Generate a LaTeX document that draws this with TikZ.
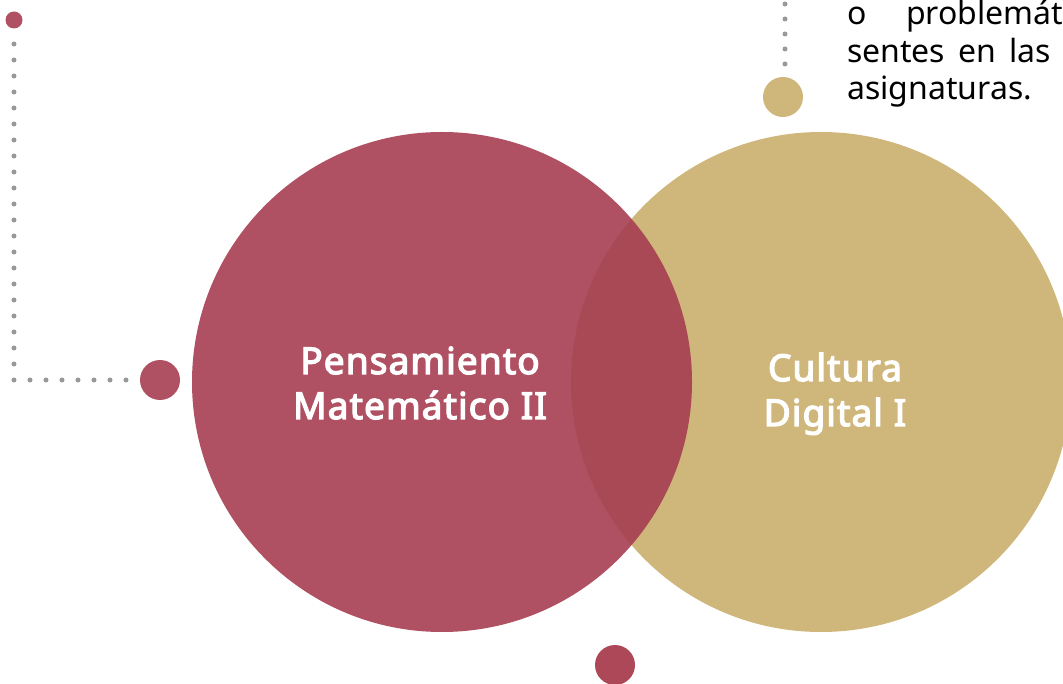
\documentclass[tikz,border=0pt]{standalone}
\usepackage{fontspec}
\setmainfont{Noto Sans}
\newfontfamily\titlefont[FakeBold=3.5,LetterSpace=3]{Noto Sans}
\definecolor{wine}{RGB}{167,62,82}
\definecolor{winedot}{RGB}{176,81,99}
\definecolor{winedark}{RGB}{173,72,88}
\definecolor{gold}{RGB}{207,183,123}
\definecolor{dotgray}{RGB}{153,153,153}
\tikzset{
  bigtitle/.style={text=white,font=\titlefont\fontsize{37}{44}\selectfont,anchor=base,inner sep=0pt},
  bodytext/.style={text=black,font=\fontsize{32}{38}\selectfont,anchor=base west,inner sep=0pt},
  dotline/.style={dotgray,line width=5pt,line cap=round,dash pattern=on 0pt off #1},
  dotline/.default=16pt
}
\begin{document}
\begin{tikzpicture}[x=1pt,y=-1pt]
\useasboundingbox (0,0) rectangle (1063,684);
\clip (0,0) rectangle (1063,684);
% big circles
\fill[gold] (821,382) circle (250);
\fill[wine,opacity=0.9] (442,382) circle (250);
% dots
\coordinate (tlstart) at (14,44);
\coordinate (tlcorner) at (14,380);
\coordinate (tlend) at (128,380);
\draw[dotline] (tlstart) -- (tlcorner) -- (tlend);
\coordinate (trstart) at (785,4);
\coordinate (trend) at (785,64);
\draw[dotline=15pt] (trstart) -- (trend);
\fill[winedot] (14,20) circle (8.5) coordinate (dottl);
\fill[winedot] (160,380) circle (20) coordinate (dotl);
\fill[gold] (783,97) circle (20) coordinate (dottr);
\fill[winedark] (615,665) circle (20) coordinate (dotb);
% titles
\node[bigtitle] (pm1) at (420,374) {Pensamiento};
\node[bigtitle] (pm2) at (420,419) {Matemático II};
\node[bigtitle] (cd1) at (835,381) {Cultura};
\node[bigtitle] (cd2) at (835,426) {Digital I};
% body text
\node[bodytext] (w1) at (847,25) {o};
\node[bodytext] (w2) at (906,25) {problemát};
\node[bodytext] (w3) at (847,63) {sentes};
\node[bodytext] (w4) at (958,63) {en};
\node[bodytext] (w5) at (1009,63) {las};
\node[bodytext] (w6) at (847,100) {asignaturas.};
\end{tikzpicture}
\end{document}
